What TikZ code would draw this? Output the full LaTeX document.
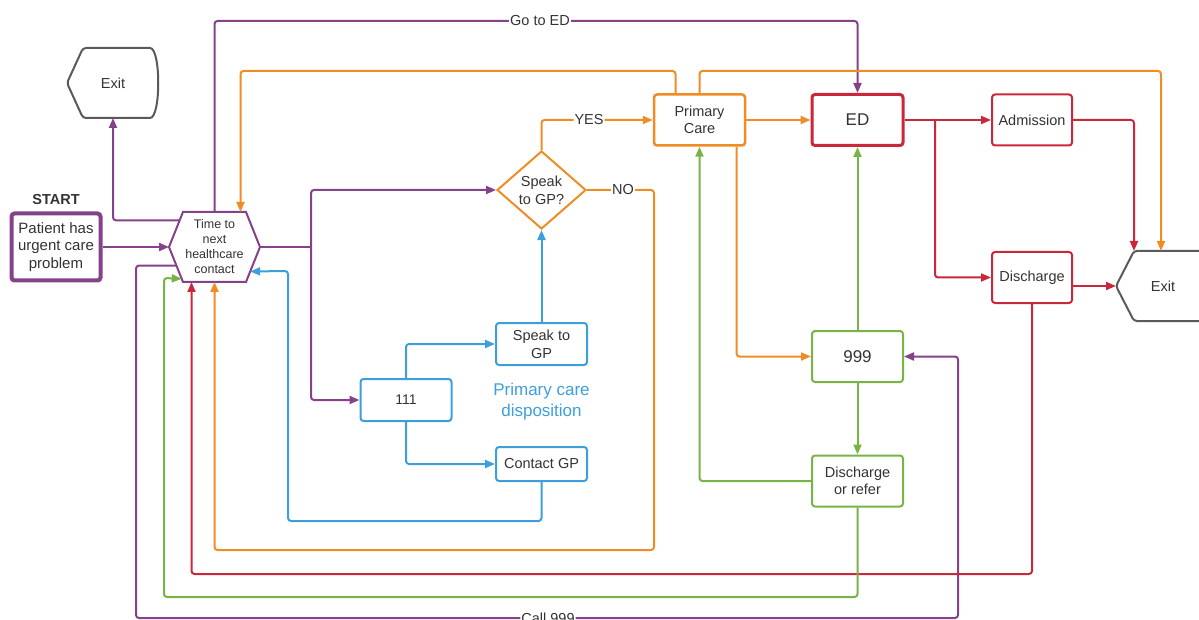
\documentclass[tikz,border=0pt]{standalone}
\usepackage{fontspec}
\setmainfont{Liberation Sans}
\usetikzlibrary{shapes.geometric}
\usetikzlibrary{calc}
\usetikzlibrary{arrows.meta}

\definecolor{pcpurple}{HTML}{84428A}
\definecolor{pcorange}{HTML}{F08C24}
\definecolor{pcred}{HTML}{C9283B}
\definecolor{pcgreen}{HTML}{77B345}
\definecolor{pcblue}{HTML}{3C9FD9}
\definecolor{pcgrey}{HTML}{5A5A5A}
\definecolor{txtgrey}{HTML}{333333}

\begin{document}
\begin{tikzpicture}[%
        x = 1pt,
        y = -1pt,
        line width = 2pt,
        text = txtgrey,
        box/.style = {draw, fill = white, rounded corners = 3pt, align = center,
            minimum width = 91pt, minimum height = 51pt, inner sep = 2pt,
            font = \fontsize{14.5}{17.5}\selectfont},
        flow/.style = {rounded corners = 3pt, -{Triangle[length = 10pt, width = 8pt]}},
        lbl/.style = {fill = white, text = txtgrey, inner sep = 1pt, font = \fontsize{14.5}{17}\selectfont},
        ]

\useasboundingbox (0,0) rectangle (1199,620);

% start and the contact hexagon
\node (start) [font = \bfseries\fontsize{14.5}{17}\selectfont] at (56,200) {START};
\node (pat) [box, draw = pcpurple, line width = 4pt, minimum width = 89pt, minimum height = 67pt,
    font = \fontsize{15}{17.5}\selectfont] at (56,247) {Patient has\\urgent care\\problem};

\node (hex) [align = center, minimum width = 89pt, minimum height = 68pt, inner sep = 0pt,
    font = \fontsize{12.5}{15}\selectfont] at (214.5,247) {Time to\\next\\healthcare\\contact};
\draw[pcpurple] (hex.west) -- ([xshift = 14pt]hex.north west) -- ([xshift = -14pt]hex.north east)
    -- (hex.east) -- ([xshift = -14pt]hex.south east) -- ([xshift = 14pt]hex.south west) -- cycle;

\coordinate (hexA) at ($(hex.west)!0.76!([xshift = 14pt]hex.north west)$);
\coordinate (hexB) at ($(hex.west)!0.53!([xshift = 14pt]hex.south west)$);
\coordinate (hexC) at ($(hex.west)!0.91!([xshift = 14pt]hex.south west)$);
\coordinate (hexD) at ($(hex.east)!0.70!([xshift = -14pt]hex.south east)$);

% exits
\node (exa) [minimum width = 90pt, minimum height = 68pt, inner sep = 0pt,
    font = \fontsize{14.5}{17}\selectfont] at (113,83) {Exit};
\draw[pcgrey, rounded corners = 3pt] (exa.west) -- ([xshift = 16pt]exa.north west) -- ([xshift = -12pt]exa.north east)
    .. controls ([xshift = 2pt]exa.north east) and ([xshift = 2pt]exa.south east) .. ([xshift = -12pt]exa.south east)
    -- ([xshift = 16pt]exa.south west) -- cycle;

\node (exb) [minimum width = 92pt, minimum height = 68pt, inner sep = 0pt,
    font = \fontsize{14.5}{17}\selectfont] at (1163,286) {Exit};
\draw[pcgrey, rounded corners = 3pt] (exb.north east) -- ([xshift = 18pt]exb.north west) -- (exb.west)
    -- ([xshift = 18pt]exb.south west) -- (exb.south east);

% boxes
\node (dia) [diamond, draw = pcorange, fill = white, aspect = 1.15, inner sep = 0pt,
    minimum width = 89pt, minimum height = 78pt, align = center,
    font = \fontsize{14.5}{18}\selectfont] at (541.5,190) {Speak\\to GP?};
\node (pc) [box, draw = pcorange, line width = 2.5pt] at (699.5,120) {Primary\\Care};
\node (ed) [box, draw = pcred, line width = 3pt, font = \fontsize{17}{20}\selectfont] at (857.5,120) {ED};
\node (adm) [box, draw = pcred, minimum width = 80pt] at (1032,120) {Admission};
\node (dis) [box, draw = pcred, minimum width = 80pt] at (1032,277.5) {Discharge};
\node (n999) [box, draw = pcgreen, font = \fontsize{17}{20}\selectfont] at (857.5,356.5) {999};
\node (dor) [box, draw = pcgreen] at (857.5,481) {Discharge\\or refer};
\node (sgp) [box, draw = pcblue, minimum height = 42pt, font = \fontsize{14.5}{18}\selectfont] at (541.5,344) {Speak to\\GP};
\node (n111) [box, draw = pcblue, minimum height = 42pt, font = \fontsize{14}{16}\selectfont] at (406,400) {111};
\node (cgp) [box, draw = pcblue, minimum height = 34pt] at (541.5,464) {Contact GP};
\node (disp) [text = pcblue, align = center, font = \fontsize{17}{21}\selectfont] at (541.5,402) {Primary care\\disposition};

% purple
\coordinate (split) at (311,247);
\draw[flow, pcpurple] (pat.east) -- (hex.west);
\draw[flow, pcpurple] (hexA) -| (exa.south);
\draw[flow, pcpurple] (hex.north) |- (540,21) node[lbl] {Go to ED} -| (ed.north);
\draw[pcpurple] (hex.east) -- (split);
\draw[flow, pcpurple] (split) |- (dia.west);
\draw[flow, pcpurple] (split) |- (n111.west);
\draw[flow, pcpurple] (hexB) -| (136,618) -- (548,618) node[lbl] {Call 999} -| (958,356.5) -- (n999.east);

% orange
\draw[flow, pcorange] (dia.north) |- (589,120) node[lbl] {YES} -- (pc.west);
\draw[flow, pcorange] (dia.east) -- (623,190) node[lbl] {NO} -| (654,550) -| (hex.south);
\draw[flow, pcorange] ([xshift = -24pt]pc.north) |- (457,71) -| ([xshift = 26pt]hex.north);
\draw[flow, pcorange] (pc.north) |- (930,71) -| ([xshift = -2pt]exb.north);
\draw[flow, pcorange] (pc.east) -- (ed.west);
\draw[flow, pcorange] ([xshift = 37pt]pc.south) |- (n999.west);

% red
\coordinate (edsplit) at (935,120);
\draw[flow, pcred] (ed.east) -- (adm.west);
\draw[flow, pcred] (edsplit) |- (dis.west);
\draw[flow, pcred] (adm.east) -| ([xshift = -29pt]exb.north);
\draw[flow, pcred] ([yshift = -8.5pt]dis.east) -- (exb.west);
\draw[flow, pcred] (dis.south) |- (600,574) -| ([xshift = -23pt]hex.south);

% green
\draw[flow, pcgreen] (n999) -- (ed);
\draw[flow, pcgreen] (n999) -- (dor);
\draw[flow, pcgreen] (dor.west) -| (pc.south);
\draw[flow, pcgreen] (dor.south) |- (500,597) -| (164,278) -- (hexC);

% blue
\foreach \SIDE/\BOX in {north/sgp, south/cgp}{%
    \draw[flow, pcblue] (n111.\SIDE) |- (\BOX.west);
    }
\draw[flow, pcblue] (sgp) -- (dia);
\draw[flow, pcblue] (cgp.south) |- (400,521) -| (288,271) -- (hexD);

\end{tikzpicture}
\end{document}
